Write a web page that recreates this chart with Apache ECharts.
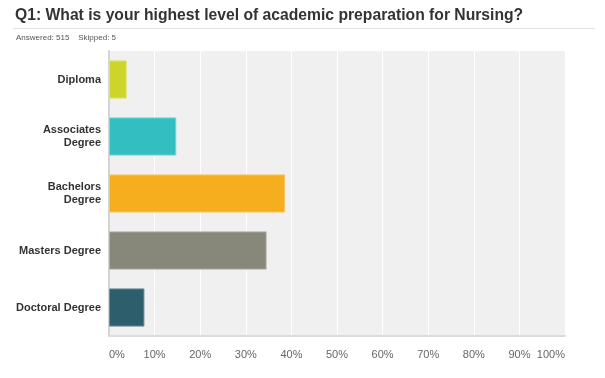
<!DOCTYPE html>
<html>
<head>
<meta charset="utf-8">
<script src="https://cdn.jsdelivr.net/npm/echarts@6/dist/echarts.min.js"></script>
<style>
  html, body { margin: 0; padding: 0; background: #fff; }
  #chart { width: 605px; height: 378px; }
</style>
</head>
<body>
<div id="chart"></div>
<script>
// answer choices, top to bottom
const categories = ['Diploma', 'Associates\nDegree', 'Bachelors\nDegree', 'Masters Degree', 'Doctoral Degree']
// percent of respondents
const percents = [3.88, 14.76, 38.64, 34.56, 7.77]
const barColors = ['#cdd42a', '#33bec1', '#f7ae1e', '#87887a', '#2d5e6b']
const borderColors = ['#dfe36f', '#7dd5d6', '#f9c866', '#aeafa3', '#6c8f99']

const myChart = echarts.init(document.getElementById('chart'))

const option = {
  animation: false,
  title: [{
    text: 'Q1: What is your highest level of academic preparation for Nursing?',
    left: 10,
    top: 3,
    textStyle: { fontFamily: 'Liberation Sans', fontSize: 15.7, fontWeight: 'bold', color: '#333' }
  }, {
    text: 'Answered: 515    Skipped: 5',
    left: 11,
    top: 29,
    textStyle: { fontFamily: 'Liberation Sans', fontSize: 8, fontWeight: 'normal', color: '#555' }
  }],
  graphic: [{
    type: 'line',
    shape: { x1: 13, y1: 28.5, x2: 595, y2: 28.5 },
    style: { stroke: '#e0e0e0', lineWidth: 1 }
  }],
  grid: {
    left: 109,
    right: 40,
    top: 51,
    bottom: 42,
    show: true,
    backgroundColor: '#f0f0f0',
    borderWidth: 0
  },
  xAxis: {
    type: 'value',
    min: 0,
    max: 100,
    interval: 10,
    axisLine: { show: true, lineStyle: { color: '#dcdcdc', width: 2 } },
    axisTick: { show: false },
    splitLine: { show: true, lineStyle: { color: '#ffffff', width: 1 } },
    axisLabel: {
      formatter: '{value}%',
      color: '#666',
      fontFamily: 'Liberation Sans',
      fontSize: 11,
      margin: 13,
      alignMinLabel: 'left',
      alignMaxLabel: 'right'
    }
  },
  yAxis: {
    type: 'category',
    inverse: true,
    data: categories,
    axisLine: { show: true, lineStyle: { color: '#d4d4d4', width: 2 } },
    axisTick: { show: false },
    axisLabel: {
      color: '#333',
      fontFamily: 'Liberation Sans',
      fontSize: 11,
      fontWeight: 'bold',
      margin: 8,
      lineHeight: 13
    }
  },
  series: [{
    type: 'bar',
    barWidth: '67%',
    data: percents.map((v, i) => ({
      value: v,
      itemStyle: { color: barColors[i], borderColor: borderColors[i], borderWidth: 1 }
    }))
  }]
}

myChart.setOption(option)
</script>
</body>
</html>
